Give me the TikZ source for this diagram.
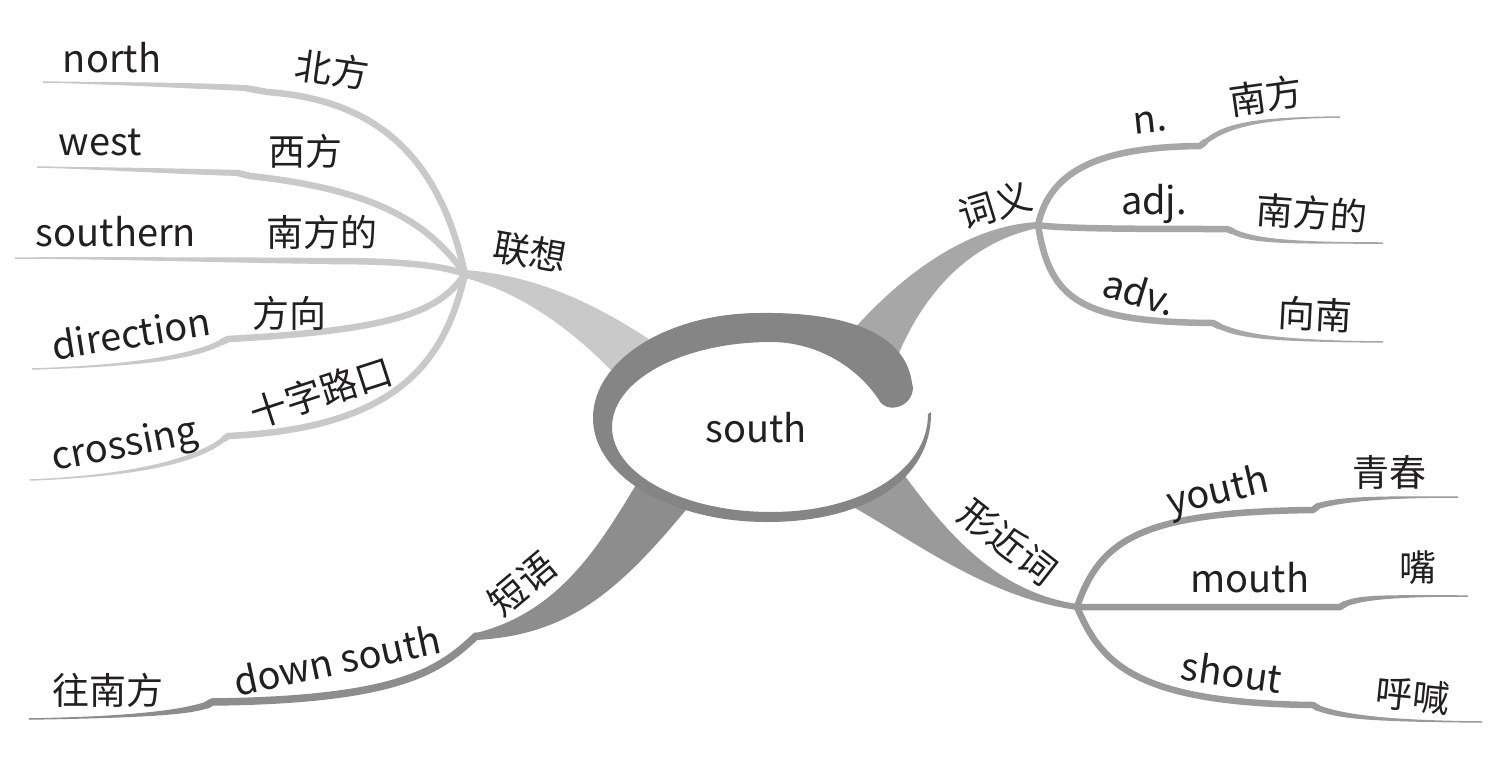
\documentclass[tikz,border=0pt]{standalone}
\usepackage{fontspec}
\setmainfont{Noto Sans CJK SC}
\usetikzlibrary{calc}
\definecolor{txt}{HTML}{231F20}
\definecolor{colL}{HTML}{C9C9C9}
\definecolor{colR}{HTML}{A7A7A7}
\definecolor{colB}{HTML}{9A9A9A}
\definecolor{colS}{HTML}{8D8D8D}
\definecolor{ringc}{HTML}{858585}
% tapered line end: colour, start, ctrl1, ctrl2, end, start width, end width
\newcommand\tapr[7]{\fill[#1] ($#2+(0,-#6/2)$) .. controls ($#3+(0,-#6/2)$) and ($#4+(0,-#7/2)$) .. ($#5+(0,-#7/2)$) -- ($#5+(0,#7/2)$) .. controls ($#4+(0,#7/2)$) and ($#3+(0,#6/2)$) .. ($#2+(0,#6/2)$) -- cycle;}
\begin{document}
\begin{tikzpicture}[x=1pt,y=-1pt,
  lat/.style={text=txt,inner sep=0pt,font=\fontsize{38}{42}\selectfont},
  cjk/.style={text=txt,inner sep=0pt,font=\fontsize{37}{40}\selectfont},
  subline/.style={line width=6.5pt,line cap=round,line join=round},
]
\useasboundingbox[fill=white] (0,0) rectangle (1500,758);

% hubs
\coordinate (HL) at (465,274);
\coordinate (HR) at (1038,225);
\coordinate (HB) at (1077,607);
\coordinate (HS) at (476,636);

% ---------- left cluster (联想) ----------
\coordinate (nS1) at (267,92);  \coordinate (nS2) at (245,88);  \coordinate (nE) at (43,82);
\coordinate (wS1) at (250,176); \coordinate (wS2) at (238,173); \coordinate (wE) at (37,167);
\coordinate (sS) at (330,261);  \coordinate (sE) at (15,258);
\coordinate (dS1) at (228,339); \coordinate (dS2) at (222,342); \coordinate (dE) at (32,369);
\coordinate (cS1) at (228,436); \coordinate (cS2) at (224,439); \coordinate (cE) at (30,480);
\draw[subline,colL] (HL) .. controls (440,160) and (380,100) .. (nS1) -- (nS2);
\tapr{colL}{(nS2)}{(180,85)}{(100,83)}{(nE)}{6}{1.5}
\draw[subline,colL] (HL) .. controls (430,225) and (380,190) .. (wS1) -- (wS2);
\tapr{colL}{(wS2)}{(170,171)}{(90,168)}{(wE)}{6}{1.5}
\draw[subline,colL] (HL) .. controls (440,265) and (400,261) .. (sS);
\tapr{colL}{(sS)}{(230,260)}{(100,258)}{(sE)}{6}{1.5}
\draw[subline,colL] (HL) .. controls (440,310) and (400,330) .. (dS1) -- (dS2);
\tapr{colL}{(dS2)}{(192,358)}{(130,366)}{(dE)}{6}{1.5}
\draw[subline,colL] (HL) .. controls (445,360) and (400,428) .. (cS1) -- (cS2);
\tapr{colL}{(cS2)}{(195,462)}{(130,476)}{(cE)}{6}{1.5}

% ---------- right top cluster (词义) ----------
\coordinate (aS1) at (1200,146); \coordinate (aS2) at (1205,142); \coordinate (aE) at (1340,117);
\coordinate (bS1) at (1227,229); \coordinate (bS2) at (1232,231); \coordinate (bE) at (1383,243);
\coordinate (vS1) at (1213,323); \coordinate (vS2) at (1219,326); \coordinate (vE) at (1383,342);
\draw[subline,colR] (HR) .. controls (1050,170) and (1100,147) .. (aS1) -- (aS2);
\tapr{colR}{(aS2)}{(1228,124)}{(1262,118)}{(aE)}{6}{1.5}
\draw[subline,colR] (HR) .. controls (1060,229) and (1150,229) .. (bS1) -- (bS2);
\tapr{colR}{(bS2)}{(1252,241)}{(1285,243)}{(bE)}{6}{1.5}
\draw[subline,colR] (HR) .. controls (1050,300) and (1080,322) .. (vS1) -- (vS2);
\tapr{colR}{(vS2)}{(1242,336)}{(1272,341)}{(vE)}{6}{1.5}

% ---------- right bottom cluster (形近词) ----------
\coordinate (yS1) at (1313,510); \coordinate (yS2) at (1318,506); \coordinate (yE) at (1458,497);
\coordinate (mS1) at (1340,607); \coordinate (mS2) at (1345,604); \coordinate (mE) at (1468,596);
\coordinate (hS1) at (1313,705); \coordinate (hS2) at (1318,708); \coordinate (hE) at (1482,722);
\draw[subline,colB] (HB) .. controls (1100,540) and (1140,512) .. (yS1) -- (yS2);
\tapr{colB}{(yS2)}{(1342,499)}{(1380,497)}{(yE)}{6}{1.5}
\draw[subline,colB] (HB) -- (mS1) -- (mS2);
\tapr{colB}{(mS2)}{(1362,597)}{(1392,596)}{(mE)}{6}{1.5}
\draw[subline,colB] (HB) .. controls (1100,660) and (1130,703) .. (hS1) -- (hS2);
\tapr{colB}{(hS2)}{(1342,717)}{(1382,721)}{(hE)}{6}{1.5}

% ---------- bottom left (短语) ----------
\coordinate (pS1) at (212,702); \coordinate (pS2) at (207,705); \coordinate (pE) at (29,719);
\draw[subline,colS,line width=7.5pt] (HS) .. controls (440,670) and (400,700) .. (pS1) -- (pS2);
\tapr{colS}{(pS2)}{(188,711)}{(150,717)}{(pE)}{7}{1.5}

% ---------- main thick branches ----------
\fill[colL] ($(HL)+(0,-4)$) .. controls (540,276) and (600,305) .. (668,352)
  -- (625,385) .. controls (575,330) and (520,292) .. ($(HL)+(0,4)$) -- cycle;
\fill[colR] (840,345) .. controls (890,285) and (960,226) .. ($(HR)+(0,-3)$)
  -- ($(HR)+(0,3)$) .. controls (965,243) and (918,300) .. (893,368) -- cycle;
\fill[colB] (895,462) .. controls (950,540) and (1000,592) .. ($(HB)+(0,-3)$)
  -- ($(HB)+(0,3)$) .. controls (990,598) and (920,545) .. (855,508) -- cycle;
\fill[colS] (640,478) .. controls (600,545) and (560,612) .. ($(HS)+(0,-3)$)
  -- ($(HS)+(0,4)$) .. controls (570,635) and (620,590) .. (690,505) -- cycle;

% ---------- central node ----------
\fill[white] (771,427) ellipse [x radius=160, y radius=86];
\fill[ringc] (912,383) .. controls (905,330) and (840,312) .. (760,313)
  .. controls (668,313) and (593,360) .. (593,418)
  .. controls (593,476) and (671,522) .. (767,522)
  .. controls (865,522) and (932,480) .. (931,412)
  -- (928,414)
  .. controls (928,470) and (862,512) .. (771,512)
  .. controls (683,512) and (612,474) .. (612,427)
  .. controls (612,380) and (683,342) .. (771,342)
  .. controls (818,342) and (858,368) .. (879,400)
  .. controls (886,414) and (912,408) .. (913,388) -- cycle;
\node[lat] (center) at (756,428) {south};

% ---------- labels ----------
\node[cjk,rotate=-10] (lx) at (530,252) {联想};
\node[cjk,rotate=17] (cy) at (995,205) {词义};
\node[cjk,rotate=-38] (xj) at (1008,542) {形近词};
\node[cjk,rotate=40] (dy) at (522,584) {短语};

\node[lat] (north) at (112,58) {north};
\node[cjk,rotate=-8] (beifang) at (332,70) {北方};
\node[lat] (west) at (100,143) {west};
\node[cjk] (xifang) at (305,151) {西方};
\node[lat] (southern) at (116,232) {southern};
\node[cjk] (nanfangde1) at (322,232) {南方的};
\node[lat,rotate=9] (direction) at (131,333) {direction};
\node[cjk] (fangxiang) at (289,313) {方向};
\node[lat,rotate=11] (crossing) at (125,447) {crossing};
\node[cjk,rotate=18] (shizi) at (321,392) {十字路口};

\node[lat,rotate=6] (n) at (1150,122) {n.};
\node[cjk,rotate=8] (nanfang) at (1266,96) {南方};
\node[lat] (adj) at (1154,204) {adj.};
\node[cjk,rotate=-4] (nanfangde2) at (1312,213) {南方的};
\node[lat,rotate=-17] (adv) at (1140,292) {adv.};
\node[cjk,rotate=-3] (xiangnan) at (1315,314) {向南};

\node[lat,rotate=13] (youth) at (1218,493) {youth};
\node[cjk] (qingchun) at (1389,472) {青春};
\node[lat] (mouth) at (1250,578) {mouth};
\node[cjk] (zui) at (1418,568) {嘴};
\node[lat,rotate=-8] (shout) at (1232,672) {shout};
\node[cjk,rotate=-6] (huhan) at (1413,695) {呼喊};

\node[lat,rotate=12] (downsouth) at (337,660) {down south};
\node[cjk] (wangnanfang) at (108,690) {往南方};
\end{tikzpicture}
\end{document}
